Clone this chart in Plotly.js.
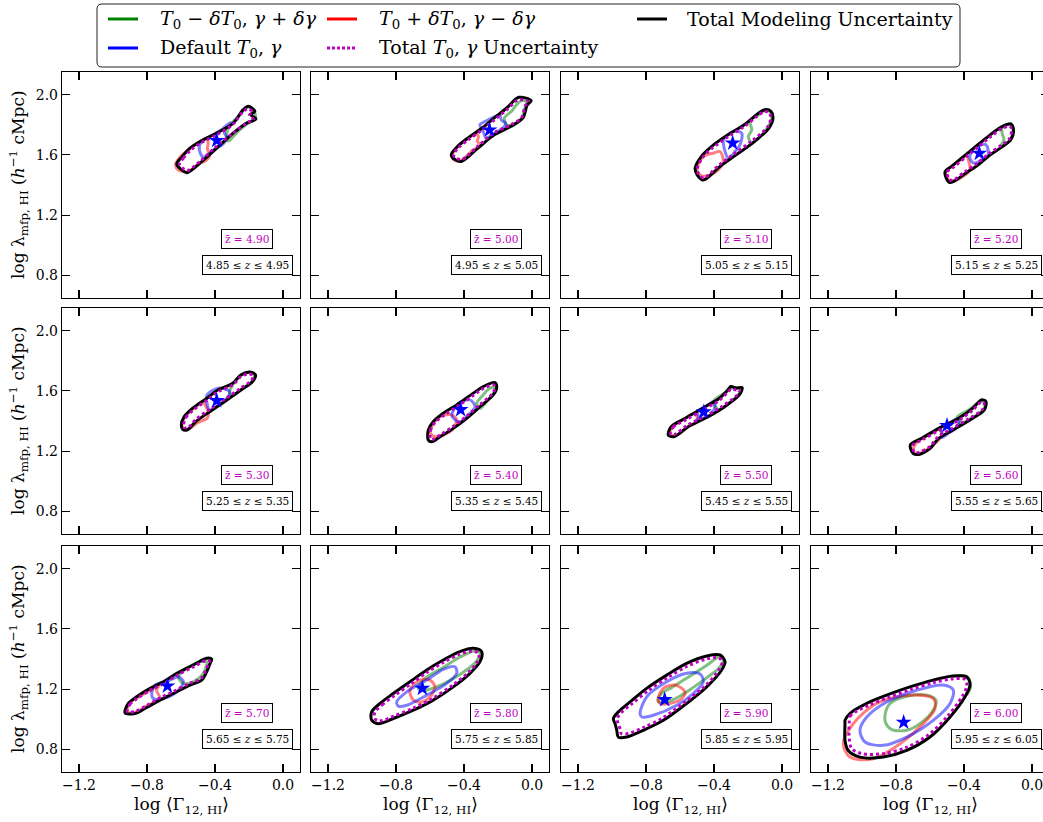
<!DOCTYPE html>
<html>
<head>
<meta charset="utf-8">
<script src="https://cdn.plot.ly/plotly-3.0.1.min.js"></script>
<style>
  html, body { margin: 0; padding: 0; overflow: hidden; background: #fff; }
</style>
</head>
<body>
<div id="chart"></div>
<script>
// Redshift bins (one panel each, row-major)
const zMean = ['4.90', '5.00', '5.10', '5.20', '5.30', '5.40', '5.50', '5.60', '5.70', '5.80', '5.90', '6.00'];
const zLow  = ['4.85', '4.95', '5.05', '5.15', '5.25', '5.35', '5.45', '5.55', '5.65', '5.75', '5.85', '5.95'];
const zHigh = ['4.95', '5.05', '5.15', '5.25', '5.35', '5.45', '5.55', '5.65', '5.75', '5.85', '5.95', '6.05'];

// Best-fit points [log Gamma_12, log lambda_mfp] for the default T0, gamma
const bestFit = [
  [-0.39, 1.695], [-0.25, 1.765], [-0.29, 1.678], [-0.31, 1.61],
  [-0.39, 1.535], [-0.42, 1.475], [-0.46, 1.46], [-0.50, 1.37],
  [-0.68, 1.22], [-0.645, 1.205], [-0.69, 1.13], [-0.755, 0.98]
];

// ---- z = 4.90 ----
const totalModel_490 = [[-0.625,1.54],[-0.596,1.585],[-0.547,1.645],[-0.488,1.689],[-0.39,1.745],[-0.292,1.811],[-0.234,1.90],[-0.204,1.922],[-0.165,1.889],[-0.19,1.867],[-0.159,1.838],[-0.214,1.811],[-0.292,1.745],[-0.39,1.645],[-0.488,1.545],[-0.566,1.482],[-0.596,1.50]];
const totalTg_490 = [[-0.61,1.54],[-0.585,1.58],[-0.54,1.635],[-0.485,1.678],[-0.39,1.734],[-0.297,1.80],[-0.237,1.885],[-0.207,1.905],[-0.178,1.884],[-0.198,1.864],[-0.173,1.836],[-0.22,1.806],[-0.298,1.74],[-0.393,1.655],[-0.488,1.557],[-0.563,1.496],[-0.59,1.512]];
const highT_490 = [[-0.632,1.53],[-0.61,1.58],[-0.55,1.64],[-0.49,1.685],[-0.455,1.71],[-0.44,1.68],[-0.445,1.64],[-0.43,1.60],[-0.45,1.565],[-0.49,1.545],[-0.56,1.487],[-0.615,1.50]];
const default_490 = [[-0.478,1.692],[-0.43,1.722],[-0.37,1.76],[-0.312,1.815],[-0.347,1.755],[-0.331,1.713],[-0.355,1.67],[-0.40,1.64],[-0.469,1.585],[-0.492,1.633]];
const lowT_490 = [[-0.302,1.811],[-0.25,1.87],[-0.215,1.915],[-0.19,1.915],[-0.168,1.885],[-0.163,1.84],[-0.21,1.806],[-0.27,1.75],[-0.322,1.692],[-0.331,1.745]];

// ---- z = 5.00 ----
const totalModel_500 = [[-0.475,1.60],[-0.439,1.655],[-0.379,1.711],[-0.294,1.778],[-0.222,1.845],[-0.149,1.911],[-0.077,1.982],[-0.005,1.96],[-0.029,1.929],[-0.053,1.845],[-0.125,1.789],[-0.222,1.733],[-0.318,1.645],[-0.415,1.556],[-0.451,1.567]];
const totalTg_500 = [[-0.462,1.60],[-0.43,1.65],[-0.375,1.70],[-0.292,1.767],[-0.22,1.834],[-0.148,1.90],[-0.08,1.965],[-0.02,1.952],[-0.04,1.925],[-0.062,1.845],[-0.128,1.798],[-0.225,1.745],[-0.318,1.658],[-0.412,1.57],[-0.447,1.578]];
const highT_500 = [[-0.47,1.59],[-0.44,1.65],[-0.38,1.705],[-0.33,1.745],[-0.315,1.72],[-0.322,1.69],[-0.30,1.665],[-0.35,1.63],[-0.415,1.565],[-0.455,1.565]];
const default_500 = [[-0.306,1.80],[-0.26,1.83],[-0.19,1.865],[-0.18,1.83],[-0.155,1.81],[-0.17,1.78],[-0.22,1.745],[-0.27,1.713],[-0.285,1.75]];
const lowT_500 = [[-0.089,1.935],[-0.06,1.96],[-0.03,1.95],[-0.045,1.90],[-0.06,1.845],[-0.11,1.80],[-0.149,1.80],[-0.162,1.845],[-0.12,1.89]];

// ---- z = 5.10 ----
const totalModel_510 = [[-0.499,1.467],[-0.511,1.511],[-0.475,1.589],[-0.415,1.655],[-0.318,1.733],[-0.222,1.80],[-0.149,1.867],[-0.101,1.90],[-0.065,1.889],[-0.053,1.845],[-0.077,1.778],[-0.174,1.678],[-0.27,1.60],[-0.366,1.522],[-0.463,1.433]];
const totalTg_510 = [[-0.49,1.47],[-0.498,1.51],[-0.465,1.585],[-0.41,1.645],[-0.315,1.722],[-0.22,1.79],[-0.148,1.855],[-0.102,1.888],[-0.075,1.88],[-0.066,1.843],[-0.085,1.785],[-0.18,1.69],[-0.275,1.612],[-0.368,1.535],[-0.46,1.447]];
const highT_510 = [[-0.50,1.50],[-0.463,1.589],[-0.404,1.611],[-0.365,1.622],[-0.345,1.555],[-0.375,1.50],[-0.424,1.467],[-0.473,1.46]];
const default_510 = [[-0.345,1.70],[-0.286,1.755],[-0.237,1.745],[-0.247,1.667],[-0.276,1.622],[-0.316,1.578],[-0.335,1.622],[-0.345,1.678]];
const lowT_510 = [[-0.188,1.822],[-0.14,1.865],[-0.10,1.895],[-0.07,1.885],[-0.06,1.845],[-0.08,1.79],[-0.13,1.72],[-0.178,1.678],[-0.198,1.722],[-0.178,1.767]];

// ---- z = 5.20 ----
const totalModel_520 = [[-0.499,1.433],[-0.511,1.489],[-0.475,1.522],[-0.391,1.60],[-0.318,1.667],[-0.246,1.733],[-0.174,1.789],[-0.125,1.805],[-0.109,1.767],[-0.125,1.70],[-0.174,1.655],[-0.246,1.60],[-0.318,1.533],[-0.391,1.478],[-0.463,1.422],[-0.487,1.418]];
const totalTg_520 = [[-0.49,1.44],[-0.498,1.487],[-0.465,1.515],[-0.385,1.59],[-0.315,1.655],[-0.244,1.72],[-0.175,1.776],[-0.13,1.79],[-0.12,1.765],[-0.135,1.705],[-0.18,1.665],[-0.25,1.61],[-0.32,1.545],[-0.392,1.49],[-0.46,1.435],[-0.482,1.432]];
const highT_520 = [[-0.505,1.49],[-0.47,1.525],[-0.43,1.56],[-0.385,1.59],[-0.37,1.55],[-0.365,1.50],[-0.39,1.47],[-0.46,1.43],[-0.495,1.44]];
const default_520 = [[-0.355,1.622],[-0.331,1.655],[-0.271,1.667],[-0.258,1.60],[-0.294,1.567],[-0.342,1.545],[-0.366,1.578]];
const lowT_520 = [[-0.175,1.78],[-0.135,1.80],[-0.112,1.775],[-0.118,1.72],[-0.16,1.668],[-0.185,1.655],[-0.165,1.70],[-0.175,1.74]];

// ---- z = 5.30 ----
const totalModel_530 = [[-0.598,1.373],[-0.581,1.429],[-0.531,1.485],[-0.448,1.551],[-0.381,1.607],[-0.296,1.651],[-0.246,1.707],[-0.196,1.725],[-0.162,1.707],[-0.179,1.662],[-0.246,1.607],[-0.33,1.54],[-0.431,1.462],[-0.514,1.395],[-0.565,1.34],[-0.59,1.345]];
const totalTg_530 = [[-0.585,1.375],[-0.57,1.425],[-0.525,1.475],[-0.445,1.54],[-0.378,1.596],[-0.295,1.64],[-0.248,1.695],[-0.2,1.712],[-0.175,1.70],[-0.19,1.665],[-0.25,1.617],[-0.333,1.552],[-0.433,1.475],[-0.515,1.408],[-0.56,1.355],[-0.582,1.357]];
const highT_530 = [[-0.595,1.38],[-0.575,1.43],[-0.53,1.48],[-0.47,1.525],[-0.455,1.50],[-0.44,1.46],[-0.445,1.42],[-0.50,1.39],[-0.56,1.345],[-0.585,1.35]];
const default_530 = [[-0.447,1.573],[-0.381,1.618],[-0.314,1.596],[-0.33,1.551],[-0.381,1.507],[-0.431,1.473],[-0.447,1.518]];
const lowT_530 = [[-0.296,1.64],[-0.25,1.70],[-0.20,1.722],[-0.168,1.705],[-0.182,1.665],[-0.24,1.613],[-0.30,1.565],[-0.314,1.59]];

// ---- z = 5.40 ----
const totalModel_540 = [[-0.61,1.273],[-0.61,1.34],[-0.581,1.395],[-0.522,1.451],[-0.443,1.507],[-0.345,1.585],[-0.286,1.629],[-0.218,1.655],[-0.208,1.618],[-0.228,1.573],[-0.306,1.495],[-0.384,1.418],[-0.463,1.351],[-0.541,1.295],[-0.59,1.262]];
const totalTg_540 = [[-0.597,1.28],[-0.597,1.338],[-0.572,1.388],[-0.516,1.44],[-0.44,1.496],[-0.342,1.573],[-0.285,1.616],[-0.225,1.64],[-0.218,1.615],[-0.237,1.577],[-0.31,1.505],[-0.387,1.43],[-0.465,1.363],[-0.54,1.308],[-0.585,1.277]];
const highT_540 = [[-0.59,1.362],[-0.541,1.429],[-0.472,1.44],[-0.443,1.407],[-0.472,1.34],[-0.522,1.307],[-0.571,1.296],[-0.598,1.32]];
const default_540 = [[-0.472,1.44],[-0.433,1.518],[-0.365,1.54],[-0.335,1.495],[-0.375,1.44],[-0.424,1.395],[-0.453,1.407]];
const lowT_540 = [[-0.325,1.518],[-0.296,1.562],[-0.247,1.618],[-0.222,1.62],[-0.228,1.584],[-0.267,1.529],[-0.306,1.484]];

// ---- z = 5.50 ----
const totalModel_550 = [[-0.669,1.307],[-0.652,1.362],[-0.569,1.418],[-0.468,1.485],[-0.368,1.551],[-0.318,1.607],[-0.301,1.629],[-0.267,1.618],[-0.234,1.622],[-0.251,1.573],[-0.351,1.485],[-0.452,1.418],[-0.552,1.362],[-0.636,1.296]];
const totalTg_550 = [[-0.655,1.31],[-0.64,1.36],[-0.562,1.41],[-0.463,1.475],[-0.365,1.54],[-0.318,1.594],[-0.298,1.612],[-0.268,1.606],[-0.25,1.608],[-0.262,1.575],[-0.355,1.495],[-0.455,1.43],[-0.555,1.373],[-0.632,1.31]];
const highT_550 = [[-0.66,1.31],[-0.64,1.365],[-0.58,1.41],[-0.52,1.45],[-0.50,1.43],[-0.505,1.39],[-0.55,1.365],[-0.62,1.305]];
const default_550 = [[-0.50,1.46],[-0.45,1.495],[-0.40,1.53],[-0.395,1.49],[-0.42,1.445],[-0.46,1.42],[-0.50,1.40],[-0.49,1.43]];
const lowT_550 = [[-0.40,1.535],[-0.33,1.59],[-0.29,1.62],[-0.245,1.615],[-0.255,1.578],[-0.30,1.53],[-0.37,1.475],[-0.395,1.50]];

// ---- z = 5.60 ----
const totalModel_560 = [[-0.699,1.185],[-0.716,1.24],[-0.649,1.285],[-0.549,1.351],[-0.431,1.418],[-0.348,1.485],[-0.298,1.54],[-0.271,1.529],[-0.281,1.473],[-0.365,1.407],[-0.465,1.34],[-0.549,1.285],[-0.599,1.218],[-0.666,1.178]];
const totalTg_560 = [[-0.69,1.192],[-0.702,1.238],[-0.642,1.277],[-0.545,1.34],[-0.428,1.407],[-0.348,1.472],[-0.30,1.525],[-0.283,1.52],[-0.29,1.478],[-0.37,1.417],[-0.47,1.35],[-0.55,1.297],[-0.60,1.232],[-0.665,1.192]];
const highT_560 = [[-0.70,1.20],[-0.68,1.255],[-0.62,1.30],[-0.54,1.345],[-0.53,1.31],[-0.545,1.28],[-0.60,1.225],[-0.66,1.185]];
const default_560 = [[-0.54,1.355],[-0.48,1.39],[-0.44,1.415],[-0.43,1.385],[-0.45,1.35],[-0.49,1.32],[-0.53,1.29],[-0.53,1.32]];
const lowT_560 = [[-0.44,1.425],[-0.37,1.475],[-0.30,1.53],[-0.277,1.515],[-0.287,1.475],[-0.36,1.415],[-0.43,1.38],[-0.42,1.40]];

// ---- z = 5.70 ----
const totalModel_570 = [[-0.929,1.042],[-0.91,1.105],[-0.861,1.149],[-0.782,1.205],[-0.704,1.249],[-0.625,1.305],[-0.528,1.36],[-0.449,1.405],[-0.419,1.398],[-0.429,1.371],[-0.449,1.315],[-0.478,1.26],[-0.547,1.227],[-0.645,1.171],[-0.724,1.127],[-0.802,1.078],[-0.871,1.038]];
const totalTg_570 = [[-0.915,1.05],[-0.90,1.10],[-0.855,1.14],[-0.778,1.195],[-0.70,1.238],[-0.622,1.293],[-0.527,1.348],[-0.452,1.39],[-0.432,1.385],[-0.44,1.365],[-0.46,1.31],[-0.485,1.268],[-0.55,1.238],[-0.647,1.183],[-0.726,1.14],[-0.803,1.09],[-0.87,1.052]];
const highT_570 = [[-0.915,1.05],[-0.90,1.11],[-0.83,1.16],[-0.76,1.205],[-0.722,1.237],[-0.744,1.193],[-0.724,1.14],[-0.80,1.09],[-0.87,1.045]];
const default_570 = [[-0.772,1.171],[-0.753,1.227],[-0.684,1.249],[-0.616,1.282],[-0.586,1.249],[-0.625,1.182],[-0.704,1.138],[-0.763,1.138]];
const lowT_570 = [[-0.616,1.282],[-0.566,1.338],[-0.488,1.382],[-0.449,1.382],[-0.469,1.305],[-0.528,1.249],[-0.586,1.238]];

// ---- z = 5.80 ----
const totalModel_580 = [[-0.943,1.049],[-0.894,1.105],[-0.816,1.171],[-0.718,1.249],[-0.619,1.327],[-0.522,1.393],[-0.424,1.449],[-0.345,1.471],[-0.296,1.449],[-0.306,1.382],[-0.365,1.305],[-0.463,1.215],[-0.581,1.127],[-0.698,1.06],[-0.816,1.005],[-0.904,0.971],[-0.943,0.993]];
const totalTg_580 = [[-0.925,1.045],[-0.88,1.097],[-0.806,1.16],[-0.712,1.235],[-0.615,1.313],[-0.52,1.378],[-0.425,1.432],[-0.35,1.452],[-0.313,1.437],[-0.322,1.38],[-0.378,1.307],[-0.472,1.222],[-0.587,1.137],[-0.702,1.072],[-0.815,1.02],[-0.897,0.988],[-0.925,1.005]];
const highT_580 = [[-0.718,1.193],[-0.659,1.26],[-0.60,1.26],[-0.571,1.215],[-0.60,1.149],[-0.649,1.115],[-0.698,1.127]];
const default_580 = [[-0.796,1.115],[-0.737,1.182],[-0.619,1.26],[-0.522,1.331],[-0.453,1.349],[-0.443,1.305],[-0.502,1.238],[-0.619,1.16],[-0.737,1.093],[-0.786,1.087]];
const lowT_580 = [[-0.67,1.21],[-0.63,1.27],[-0.52,1.345],[-0.42,1.415],[-0.33,1.455],[-0.305,1.44],[-0.33,1.38],[-0.42,1.30],[-0.52,1.235],[-0.60,1.20],[-0.65,1.19]];

// ---- z = 5.90 ----
const totalModel_590 = [[-0.992,1.005],[-0.963,1.049],[-0.894,1.115],[-0.796,1.205],[-0.678,1.293],[-0.561,1.371],[-0.443,1.42],[-0.365,1.427],[-0.335,1.382],[-0.355,1.327],[-0.443,1.215],[-0.561,1.105],[-0.698,0.993],[-0.816,0.927],[-0.914,0.882],[-0.963,0.882],[-0.972,0.927],[-0.982,0.971]];
const totalTg_590 = [[-0.97,1.005],[-0.945,1.045],[-0.88,1.105],[-0.787,1.19],[-0.672,1.277],[-0.557,1.352],[-0.445,1.40],[-0.372,1.408],[-0.352,1.38],[-0.372,1.325],[-0.455,1.218],[-0.57,1.115],[-0.703,1.008],[-0.815,0.945],[-0.905,0.905],[-0.945,0.905],[-0.952,0.935],[-0.965,0.975]];
const highT_590 = [[-0.728,1.138],[-0.698,1.205],[-0.629,1.227],[-0.571,1.182],[-0.59,1.138],[-0.659,1.105],[-0.718,1.105]];
const default_590 = [[-0.835,1.038],[-0.796,1.149],[-0.678,1.249],[-0.561,1.305],[-0.482,1.30],[-0.463,1.249],[-0.522,1.171],[-0.619,1.093],[-0.757,1.027],[-0.825,1.015]];
const lowT_590 = [[-0.73,1.12],[-0.71,1.17],[-0.65,1.21],[-0.55,1.28],[-0.44,1.36],[-0.37,1.415],[-0.345,1.40],[-0.37,1.34],[-0.45,1.27],[-0.55,1.19],[-0.64,1.13],[-0.70,1.11]];

// ---- z = 6.00 ----
const totalModel_600 = [[-1.10,0.971],[-1.10,0.993],[-1.071,1.038],[-0.972,1.105],[-0.855,1.16],[-0.718,1.215],[-0.581,1.26],[-0.463,1.287],[-0.384,1.282],[-0.365,1.227],[-0.394,1.149],[-0.482,1.015],[-0.60,0.882],[-0.737,0.793],[-0.875,0.749],[-1.012,0.749],[-1.081,0.793],[-1.10,0.86]];
const totalTg_600 = [[-1.075,0.98],[-1.07,1.02],[-1.045,1.045],[-0.955,1.095],[-0.845,1.145],[-0.712,1.198],[-0.58,1.243],[-0.468,1.268],[-0.395,1.265],[-0.383,1.225],[-0.41,1.152],[-0.495,1.023],[-0.607,0.898],[-0.74,0.813],[-0.872,0.772],[-1.0,0.772],[-1.06,0.805],[-1.075,0.87]];
const highT_600 = [[-1.11,0.838],[-1.051,0.971],[-0.914,1.105],[-0.718,1.16],[-0.581,1.138],[-0.571,1.071],[-0.639,0.971],[-0.776,0.838],[-0.933,0.738],[-1.071,0.749]];
const default_600 = [[-1.012,0.927],[-0.972,1.015],[-0.855,1.115],[-0.678,1.193],[-0.522,1.227],[-0.463,1.193],[-0.482,1.105],[-0.581,0.993],[-0.737,0.882],[-0.875,0.827],[-0.982,0.849]];
const lowT_600 = [[-0.865,1.027],[-0.835,1.105],[-0.737,1.153],[-0.619,1.16],[-0.565,1.127],[-0.581,1.06],[-0.659,0.971],[-0.737,0.927],[-0.825,0.931],[-0.859,0.971]];
const lowTOuter_600 = [[-0.502,1.282],[-0.404,1.289],[-0.369,1.26],[-0.361,1.215],[-0.384,1.16]];

// Table of contour sets per panel, built from the arrays above
const panels = [
  { lowT: [lowT_490], highT: highT_490, base: default_490, tg: totalTg_490, model: totalModel_490 },
  { lowT: [lowT_500], highT: highT_500, base: default_500, tg: totalTg_500, model: totalModel_500 },
  { lowT: [lowT_510], highT: highT_510, base: default_510, tg: totalTg_510, model: totalModel_510 },
  { lowT: [lowT_520], highT: highT_520, base: default_520, tg: totalTg_520, model: totalModel_520 },
  { lowT: [lowT_530], highT: highT_530, base: default_530, tg: totalTg_530, model: totalModel_530 },
  { lowT: [lowT_540], highT: highT_540, base: default_540, tg: totalTg_540, model: totalModel_540 },
  { lowT: [lowT_550], highT: highT_550, base: default_550, tg: totalTg_550, model: totalModel_550 },
  { lowT: [lowT_560], highT: highT_560, base: default_560, tg: totalTg_560, model: totalModel_560 },
  { lowT: [lowT_570], highT: highT_570, base: default_570, tg: totalTg_570, model: totalModel_570 },
  { lowT: [lowT_580], highT: highT_580, base: default_580, tg: totalTg_580, model: totalModel_580 },
  { lowT: [lowT_590], highT: highT_590, base: default_590, tg: totalTg_590, model: totalModel_590 },
  { lowT: [lowT_600, lowTOuter_600], highT: highT_600, base: default_600, tg: totalTg_600, model: totalModel_600 }
];

// ---------------- layout geometry (pixels) ----------------
const W = 1049, H = 822;
const colLeft = [62, 311, 561, 811], colW = 238;
const rowTop = [72, 308, 546], rowH = 226;
const px = v => v / W;
const py = v => 1 - v / H;

const SERIF = 'DejaVu Serif, Liberation Serif, serif';
const GREEN = 'rgba(0,128,0,0.5)', BLUE = 'rgba(0,0,255,0.5)', RED = 'rgba(255,0,0,0.5)';
const MAGENTA = 'rgb(191,0,191)';

const closeLoop = pts => pts.concat([pts[0]]);

const traces = [];
const layout = {
  width: W, height: H,
  margin: { l: 0, r: 0, t: 0, b: 0 },
  paper_bgcolor: '#fff', plot_bgcolor: '#fff',
  showlegend: false,
  annotations: [], shapes: []
};

panels.forEach((p, i) => {
  const r = Math.floor(i / 4), c = i % 4;
  const sfx = i === 0 ? '' : String(i + 1);
  const xa = 'x' + sfx, ya = 'y' + sfx;
  const L = colLeft[c], T = rowTop[r];

  const axisCommon = {
    ticks: 'inside', ticklen: 8, tickwidth: 1.2, tickcolor: '#000',
    showline: true, linecolor: '#000', linewidth: 1.2, mirror: 'ticks',
    showgrid: false, zeroline: false, fixedrange: true,
    tickfont: { family: SERIF, size: 14, color: '#000' },
    tickformat: '.1f'
  };
  layout['xaxis' + sfx] = Object.assign({}, axisCommon, {
    domain: [px(L), px(L + colW)], range: [-1.3, 0.1], anchor: ya,
    tickvals: [-1.2, -0.8, -0.4, 0.0], showticklabels: r === 2
  });
  layout['yaxis' + sfx] = Object.assign({}, axisCommon, {
    domain: [py(T + rowH), py(T)], range: [0.65, 2.15], anchor: xa,
    tickvals: [0.8, 1.2, 1.6, 2.0], showticklabels: c === 0
  });

  const addCurve = (pts, color, width, dash) => {
    const loop = dash === 'open' ? pts : closeLoop(pts);
    traces.push({
      x: loop.map(q => q[0]), y: loop.map(q => q[1]),
      xaxis: xa, yaxis: ya, mode: 'lines', hoverinfo: 'skip',
      line: { color: color, width: width, shape: 'spline', smoothing: 0.9,
              dash: dash === 'open' ? 'solid' : dash }
    });
  };
  p.lowT.forEach((g, k) => addCurve(g, GREEN, 3, k === 0 ? 'solid' : 'open'));
  addCurve(p.highT, RED, 3, 'solid');
  addCurve(p.base, BLUE, 3, 'solid');
  addCurve(p.model, '#000', 3, 'solid');
  addCurve(p.tg, MAGENTA, 3, '3px,3px');

  traces.push({
    x: [bestFit[i][0]], y: [bestFit[i][1]], xaxis: xa, yaxis: ya,
    mode: 'markers', hoverinfo: 'skip',
    marker: { symbol: 'star', size: 12, color: '#0000ff', line: { width: 0 } }
  });

  // redshift labels
  layout.annotations.push({
    xref: 'paper', yref: 'paper', x: px(L + 185), y: py(T + 167),
    xanchor: 'center', yanchor: 'middle', showarrow: false,
    text: 'z\u0304 = ' + zMean[i],
    font: { family: SERIF, size: 10.5, color: MAGENTA },
    bordercolor: '#000', borderwidth: 1, borderpad: 3, bgcolor: '#fff'
  });
  layout.annotations.push({
    xref: 'paper', yref: 'paper', x: px(L + 185), y: py(T + 193),
    xanchor: 'center', yanchor: 'middle', showarrow: false,
    text: zLow[i] + ' \u2264 <i>z</i> \u2264 ' + zHigh[i],
    font: { family: SERIF, size: 10.5, color: '#000' },
    bordercolor: '#000', borderwidth: 1, borderpad: 3, bgcolor: '#fff'
  });

  if (c === 0) {
    layout.annotations.push({
      xref: 'paper', yref: 'paper', x: px(18), y: py(T + rowH / 2),
      xanchor: 'center', yanchor: 'middle', showarrow: false, textangle: -90,
      text: 'log \u03bb<sub>mfp, HI</sub> (<i>h</i><sup>\u22121</sup> cMpc)',
      font: { family: SERIF, size: 17, color: '#000' }
    });
  }
  if (r === 2) {
    layout.annotations.push({
      xref: 'paper', yref: 'paper', x: px(L + colW / 2), y: py(805),
      xanchor: 'center', yanchor: 'middle', showarrow: false,
      text: 'log \u27e8\u0393<sub>12, HI</sub>\u27e9',
      font: { family: SERIF, size: 17, color: '#000' }
    });
  }
});

// ---------------- legend ----------------
const box = { x0: 97, y0: 4, x1: 960, y1: 67, r: 5 };
const P = (x, y) => px(x) + ',' + py(y);
layout.shapes.push({
  type: 'path', xref: 'paper', yref: 'paper',
  path: 'M' + P(box.x0 + box.r, box.y0) + ' L' + P(box.x1 - box.r, box.y0) +
        ' Q' + P(box.x1, box.y0) + ' ' + P(box.x1, box.y0 + box.r) +
        ' L' + P(box.x1, box.y1 - box.r) +
        ' Q' + P(box.x1, box.y1) + ' ' + P(box.x1 - box.r, box.y1) +
        ' L' + P(box.x0 + box.r, box.y1) +
        ' Q' + P(box.x0, box.y1) + ' ' + P(box.x0, box.y1 - box.r) +
        ' L' + P(box.x0, box.y0 + box.r) +
        ' Q' + P(box.x0, box.y0) + ' ' + P(box.x0 + box.r, box.y0) + ' Z',
  line: { color: '#222', width: 1 }, fillcolor: '#fff'
});

const legendItems = [
  { col: 0, row: 0, color: 'rgb(0,128,0)', dash: 'solid',
    text: '<i>T</i><sub>0</sub> \u2212 <i>\u03b4T</i><sub>0</sub>, <i>\u03b3</i> + <i>\u03b4\u03b3</i>' },
  { col: 1, row: 0, color: 'rgb(255,0,0)', dash: 'solid',
    text: '<i>T</i><sub>0</sub> + <i>\u03b4T</i><sub>0</sub>, <i>\u03b3</i> \u2212 <i>\u03b4\u03b3</i>' },
  { col: 2, row: 0, color: '#000', dash: 'solid', text: 'Total Modeling Uncertainty' },
  { col: 0, row: 1, color: 'rgb(0,0,255)', dash: 'solid', text: 'Default <i>T</i><sub>0</sub>, <i>\u03b3</i>' },
  { col: 1, row: 1, color: MAGENTA, dash: '3px,2px', text: 'Total <i>T</i><sub>0</sub>, <i>\u03b3</i> Uncertainty' }
];
const legLine = [[108, 138], [327, 357], [637, 667]];
const legText = [158, 377, 685];
const legRowY = [19, 48];
legendItems.forEach(it => {
  const y = legRowY[it.row];
  layout.shapes.push({
    type: 'line', xref: 'paper', yref: 'paper',
    x0: px(legLine[it.col][0]), x1: px(legLine[it.col][1]), y0: py(y), y1: py(y),
    line: { color: it.color, width: 3, dash: it.dash }
  });
  layout.annotations.push({
    xref: 'paper', yref: 'paper', x: px(legText[it.col]), y: py(y),
    xanchor: 'left', yanchor: 'middle', showarrow: false,
    text: it.text, font: { family: SERIF, size: 19, color: '#000' }
  });
});

Plotly.newPlot('chart', traces, layout, { displayModeBar: false, staticPlot: true });
</script>
</body>
</html>
